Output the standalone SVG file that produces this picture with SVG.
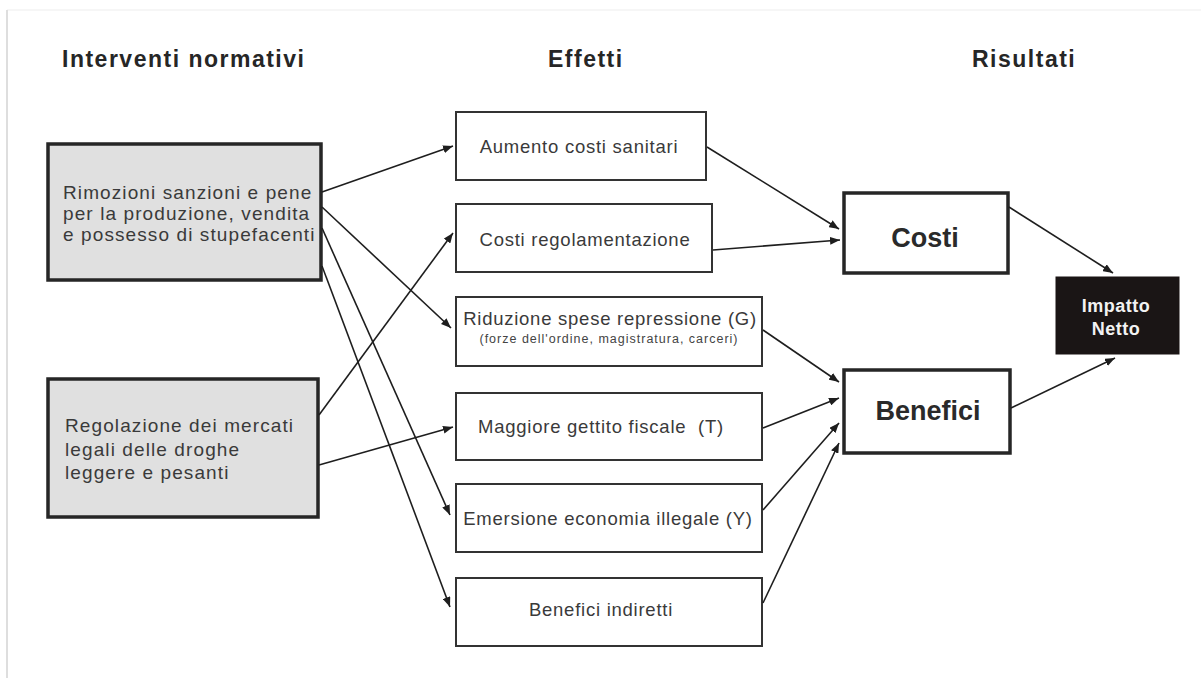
<svg xmlns="http://www.w3.org/2000/svg" width="1201" height="678" viewBox="0 0 1201 678">
<defs>
<marker id="ah" viewBox="0 0 10 8" refX="10" refY="4" markerWidth="10" markerHeight="8" markerUnits="userSpaceOnUse" orient="auto">
<path d="M0,0 L10,4 L0,8 Z" fill="#1e1e1e"/>
</marker>
<style>
.hdr{font-family:"Liberation Sans",Arial,sans-serif;font-weight:bold;font-size:23px;letter-spacing:1.5px;fill:#262626}
.src{fill:#e0e0e0;stroke:#262626;stroke-width:3.5}
.srct{font-family:"Liberation Sans",Arial,sans-serif;font-size:19px;letter-spacing:1.1px;fill:#3a3a3a}
.eff{fill:#fff;stroke:#333;stroke-width:2}
.efft{font-family:"Liberation Sans",Arial,sans-serif;font-size:18.5px;letter-spacing:0.75px;fill:#3a3a3a;text-anchor:middle}
.efft2{font-family:"Liberation Sans",Arial,sans-serif;font-size:12.5px;letter-spacing:1px;fill:#444;text-anchor:middle}
.res{fill:#fff;stroke:#262626;stroke-width:3.5}
.rest{font-family:"Liberation Sans",Arial,sans-serif;font-weight:bold;font-size:27px;fill:#2a2a2a;text-anchor:middle}
.imp{fill:#1a1515;stroke:#1a1515;stroke-width:1}
.impt{font-family:"Liberation Sans",Arial,sans-serif;font-weight:bold;font-size:18px;letter-spacing:0.5px;fill:#f2f2f2;text-anchor:middle}
.conn line{stroke:#1e1e1e;stroke-width:1.6;marker-end:url(#ah)}
</style>
</defs>
<rect x="0" y="0" width="1201" height="678" fill="#fff"/>
<line x1="7" y1="10" x2="1201" y2="10" stroke="#f3f3f3" stroke-width="1.5"/>
<line x1="7" y1="10" x2="7" y2="678" stroke="#dedede" stroke-width="2"/>

<g id="headers">
<text class="hdr" x="62" y="67">Interventi normativi</text>
<text class="hdr" x="548" y="67">Effetti</text>
<text class="hdr" x="972" y="67">Risultati</text>
</g>

<g id="n-rimozioni">
<rect class="src" x="48" y="144" width="273" height="136"/>
<text class="srct" x="63" y="199">Rimozioni sanzioni e pene</text>
<text class="srct" x="63" y="220">per la produzione, vendita</text>
<text class="srct" x="63" y="241">e possesso di stupefacenti</text>
</g>

<g id="n-regolazione">
<rect class="src" x="48" y="379" width="270" height="138"/>
<text class="srct" x="65" y="432">Regolazione dei mercati</text>
<text class="srct" x="65" y="456">legali delle droghe</text>
<text class="srct" x="65" y="479">leggere e pesanti</text>
</g>

<g id="n-aumento">
<rect class="eff" x="456" y="112" width="250" height="68"/>
<text class="efft" x="579" y="153">Aumento costi sanitari</text>
</g>
<g id="n-costireg">
<rect class="eff" x="456" y="204" width="256" height="68"/>
<text class="efft" x="585" y="246">Costi regolamentazione</text>
</g>
<g id="n-riduzione">
<rect class="eff" x="456" y="297" width="306" height="69"/>
<text class="efft" x="610" y="325">Riduzione spese repressione (G)</text>
<text class="efft2" x="609" y="343">(forze dell'ordine, magistratura, carceri)</text>
</g>
<g id="n-maggiore">
<rect class="eff" x="456" y="393" width="306" height="67"/>
<text class="efft" x="601" y="433" xml:space="preserve">Maggiore gettito fiscale  (T)</text>
</g>
<g id="n-emersione">
<rect class="eff" x="456" y="484" width="306" height="68"/>
<text class="efft" x="608" y="525">Emersione economia illegale (Y)</text>
</g>
<g id="n-benind">
<rect class="eff" x="456" y="578" width="306" height="68"/>
<text class="efft" x="601" y="616">Benefici indiretti</text>
</g>

<g id="n-costi">
<rect class="res" x="844" y="193" width="164" height="80"/>
<text class="rest" x="925" y="247">Costi</text>
</g>
<g id="n-benefici">
<rect class="res" x="844" y="370" width="166" height="83"/>
<text class="rest" x="928" y="420">Benefici</text>
</g>
<g id="n-impatto">
<rect class="imp" x="1056" y="277" width="123" height="77"/>
<text class="impt" x="1116" y="312">Impatto</text>
<text class="impt" x="1116" y="335">Netto</text>
</g>

<g id="connectors" class="conn">
<line x1="322" y1="192" x2="453" y2="146"/>
<line x1="322" y1="207" x2="451" y2="328"/>
<line x1="322" y1="228" x2="450" y2="515"/>
<line x1="322" y1="266" x2="450" y2="607"/>
<line x1="319" y1="415" x2="453" y2="233"/>
<line x1="319" y1="465" x2="453" y2="427"/>
<line x1="707" y1="147" x2="839" y2="229"/>
<line x1="713" y1="250" x2="840" y2="240"/>
<line x1="763" y1="330" x2="839" y2="382"/>
<line x1="763" y1="428" x2="839" y2="398"/>
<line x1="763" y1="510" x2="839" y2="423"/>
<line x1="763" y1="603" x2="839" y2="443"/>
<line x1="1009" y1="207" x2="1113" y2="273"/>
<line x1="1011" y1="408" x2="1115" y2="358"/>
</g>
</svg>
